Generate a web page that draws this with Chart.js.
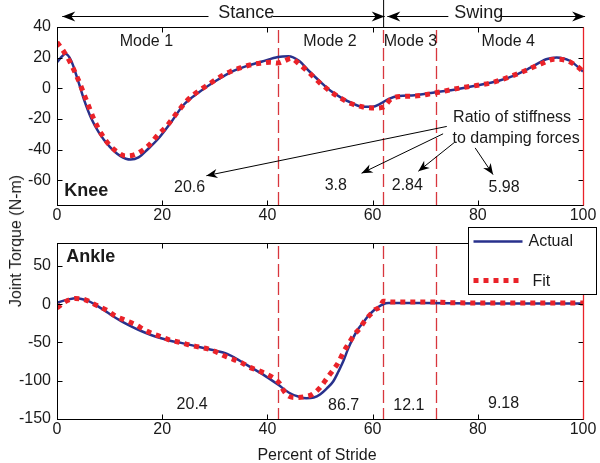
<!DOCTYPE html>
<html><head><meta charset="utf-8">
<script src="https://cdn.jsdelivr.net/npm/chart.js@4.4.1/dist/chart.umd.min.js"></script>
<style>
html,body{margin:0;padding:0;background:#fff;width:600px;height:463px;overflow:hidden;font-family:"Liberation Sans",Arial,sans-serif;color:#1a1a1a;}
#c1{position:absolute;left:0;top:0;}
#c2{position:absolute;left:0;top:216px;}
#ylab{position:absolute;left:16px;top:241px;transform:translate(-50%,-50%) rotate(-90deg);font-size:16px;white-space:nowrap;}
#xlab{position:absolute;left:317px;top:455px;transform:translate(-50%,-50%);font-size:16px;white-space:nowrap;}
</style></head>
<body>
<canvas id="c1" width="600" height="230"></canvas>
<canvas id="c2" width="600" height="228"></canvas>
<div id="ylab">Joint Torque (N-m)</div>
<div id="xlab">Percent of Stride</div>
<script>
// ---- data ----
const xTicks = [0, 20, 40, 60, 80, 100];
const kneeTicks = [-60, -40, -20, 0, 20, 40];
const ankleTicks = [-150, -100, -50, 0, 50];

const kneeActualX = [0, 1, 1.6, 2.7, 4, 5.2, 6.5, 8, 10, 12, 14, 15.5, 17.3, 19.2, 21.7, 24, 27, 30, 33, 36, 39, 42, 44, 46, 48, 50, 52, 54, 56, 58, 60, 61.5, 63, 65, 68, 72, 76, 80, 84, 87, 90, 93, 95, 97.5, 100];
const kneeActualY = [17, 21, 22.5, 18, 5, -8, -19.5, -29, -38, -44, -46.4, -45, -39.5, -33, -22, -11, -2.5, 4.5, 10.5, 14.5, 17.5, 20.5, 21, 18, 11, 4.5, -1.5, -6, -9.5, -12, -12, -10, -7, -5, -4.5, -2.5, -0.5, 2, 5, 8.5, 13.5, 19, 20.2, 18, 11];

const kneeFitX = [0, 1.3, 2.5, 4, 5.5, 7, 8.5, 10, 11.5, 13, 14.5, 16, 17.5, 19, 21, 23, 25, 27, 29, 31, 33, 35, 37, 39, 40.5, 42, 43.3, 44.5, 46, 48, 50, 52, 54, 56, 58, 60.5, 62, 63.5, 65.5, 68, 71, 74, 77, 80, 83, 86, 89, 92, 94.5, 97, 99, 100];
const kneeFitY = [30, 24, 17, 6, -7, -20, -30, -37, -41.5, -44, -43.5, -41, -37, -31, -24, -15, -7, -1.5, 3, 7.5, 11, 13.5, 15.5, 16.5, 17, 16.5, 18, 19.5, 16, 10, 3.5, -2, -6.5, -10, -12, -12.8, -12.2, -7, -5.2, -5, -3.5, -1.5, 0.5, 2, 4, 7.5, 11.5, 16, 19, 18, 14, 11];

const ankleActualX = [0, 2, 3.7, 5.9, 7.5, 9, 10.5, 12.2, 14, 16, 18, 19.8, 21.7, 23.6, 26.8, 30, 32, 33.8, 36, 39.2, 42, 44.2, 46, 47.4, 48.8, 50, 51.3, 52.5, 53.5, 54.4, 55.3, 56.3, 57.2, 58.2, 59.2, 60.1, 61, 62, 63, 70, 80, 90, 100];
const ankleActualY = [2, 6, 7.9, 4.3, -1.5, -8, -15, -22, -28.5, -35, -40.5, -44.5, -48, -50.5, -55.5, -60.5, -64, -70, -79, -92, -105, -116, -121, -123, -122, -118, -110, -101, -88, -75, -59, -44, -33, -24, -15, -8.8, -4, 0, 1.5, 1.5, 1, 1, 1];

const ankleFitX = [0, 1.5, 3.5, 5.5, 7.5, 9.5, 11, 13, 15, 16.5, 18, 20, 21.5, 23.5, 25, 27, 29, 30.5, 32, 33.5, 35, 36.5, 38, 40, 41.5, 42.5, 43, 44, 45.5, 47, 48.5, 50, 51.5, 52.5, 53.5, 54.5, 55.5, 56.5, 57.5, 58.5, 59.5, 60.5, 61.5, 62, 63.5, 65, 70, 75, 80, 90, 100];
const ankleFitY = [-5, 3, 7.5, 5.5, -1.5, -8, -15, -21, -27, -33, -38, -43, -47, -50, -53, -56, -59, -63, -68, -72, -76, -82, -86, -92, -98, -105, -112, -120, -122, -121, -118, -109, -95, -86, -76, -62, -51, -40, -32, -22, -14, -7, -3, 4, 3, 3, 3, 2, 1.5, 1.5, 1.5];

const modeBounds = [42, 62, 72];
const modeNames = ['Mode 1', 'Mode 2', 'Mode 3', 'Mode 4'];
const kneeRatios = ['20.6', '3.8', '2.84', '5.98'];
const ankleRatios = ['20.4', '86.7', '12.1', '9.18'];

// ---- styles ----
const FONT = '"Liberation Sans", Arial, sans-serif';
const BLUE = '#28318c';
const RED = '#ea2229';
const DASHRED = '#d8363d';
const TXT = '#1a1a1a';

function pts(xs, ys) { return xs.map((x, i) => ({ x: x, y: ys[i] })); }

function arrowHead(ctx, x0, y0, x1, y1, len, half) {
  const a = Math.atan2(y1 - y0, x1 - x0);
  const c = Math.cos(a), s = Math.sin(a);
  const bx = x1 - c * len, by = y1 - s * len;
  const nx = x1 - c * len * 0.7, ny = y1 - s * len * 0.7;
  ctx.beginPath();
  ctx.moveTo(x1, y1);
  ctx.lineTo(bx - s * half, by + c * half);
  ctx.lineTo(nx, ny);
  ctx.lineTo(bx + s * half, by - c * half);
  ctx.closePath();
  ctx.fill();
}
function arrow(ctx, x0, y0, x1, y1, len, half) {
  ctx.beginPath(); ctx.moveTo(x0, y0); ctx.lineTo(x1, y1); ctx.stroke();
  arrowHead(ctx, x0, y0, x1, y1, len, half);
}

function framePlugin(kind) {
  return {
    id: 'frame' + kind,
    beforeDatasetsDraw(chart) {
      const { ctx, chartArea: ca, scales: { x: xs } } = chart;
      ctx.save();
      ctx.strokeStyle = DASHRED; ctx.lineWidth = 1.3; ctx.setLineDash([13, 5]);
      modeBounds.forEach(b => {
        const px = Math.round(xs.getPixelForValue(b)) + 0.5;
        ctx.beginPath(); ctx.moveTo(px, ca.top + 3); ctx.lineTo(px, ca.bottom); ctx.stroke();
      });
      ctx.restore();
    },
    afterDraw(chart) {
      const { ctx, chartArea: ca, scales: { x: xs, y: ys } } = chart;
      const X = v => xs.getPixelForValue(v), Y = v => ys.getPixelForValue(v);
      ctx.save();
      // box
      ctx.strokeStyle = '#000'; ctx.lineWidth = 1; ctx.setLineDash([]);
      const L = Math.round(ca.left) + 0.5, R = Math.round(ca.right) + 0.5, T = Math.round(ca.top) + 0.5, B = Math.round(ca.bottom) + 0.5;
      ctx.strokeRect(L, T, R - L, B - T);
      // inner ticks
      ctx.beginPath();
      xTicks.forEach(v => {
        const px = Math.round(X(v)) + 0.5;
        ctx.moveTo(px, B); ctx.lineTo(px, B - 5);
        ctx.moveTo(px, T); ctx.lineTo(px, T + 5);
      });
      (kind === 'knee' ? kneeTicks : ankleTicks).forEach(v => {
        const py = Math.round(Y(v)) + 0.5;
        ctx.moveTo(L, py); ctx.lineTo(L + 5, py);
        ctx.moveTo(R, py); ctx.lineTo(R - 5, py);
      });
      ctx.stroke();
      // red line at 100
      ctx.strokeStyle = RED; ctx.lineWidth = 1.3;
      ctx.beginPath(); ctx.moveTo(R, T); ctx.lineTo(R, B); ctx.stroke();

      ctx.fillStyle = TXT; ctx.strokeStyle = '#000';
      ctx.textBaseline = 'middle';
      if (kind === 'knee') {
        // header
        const hy = 16.5;
        ctx.lineWidth = 1;
        ctx.beginPath(); ctx.moveTo(X(62) + 0.5, 0); ctx.lineTo(X(62) + 0.5, T); ctx.stroke();
        ctx.fillStyle = '#000';
        arrow(ctx, X(31), hy, X(1), hy, 13, 5);
        arrow(ctx, X(31), hy, X(62.3), hy, 13, 5);
        arrow(ctx, X(81), hy, X(62.8), hy, 13, 5);
        arrow(ctx, X(81), hy, X(100.4), hy, 13, 5);
        ctx.font = '18px ' + FONT; ctx.textAlign = 'center';
        ctx.fillStyle = '#fff';
        ctx.fillRect(X(28.8), 3, X(41) - X(28.8), 24);
        ctx.fillRect(X(74.4), 3, X(84) - X(74.4), 24);
        ctx.fillStyle = TXT;
        ctx.fillText('Stance', X(36), 13);
        ctx.fillText('Swing', X(80.2), 13);
        // mode labels
        ctx.font = '16px ' + FONT;
        const mx = [17, 51.9, 67.2, 85.8];
        modeNames.forEach((m, i) => ctx.fillText(m, X(mx[i]), Y(30.7)));
        // ratios
        const rx = [25.2, 53, 66.6, 85];
        const ry = [-64.7, -63.4, -63.4, -64.7];
        kneeRatios.forEach((r, i) => ctx.fillText(r, X(rx[i]), Y(ry[i])));
        ctx.textAlign = 'left';
        ctx.fillText('Ratio of stiffness', X(75.3), Y(-19));
        ctx.fillText('to damping forces', X(75.2), Y(-32.7));
        ctx.font = 'bold 18px ' + FONT;
        ctx.fillText('Knee', X(1.4), Y(-66.7));
        // arrows
        ctx.lineWidth = 1; ctx.fillStyle = '#000';
        arrow(ctx, X(74.1), Y(-24.8), X(28.4), Y(-56.9), 11, 4.5);
        arrow(ctx, X(73.4), Y(-29.6), X(57.9), Y(-55.3), 11, 4.5);
        arrow(ctx, X(75.6), Y(-35.1), X(68.7), Y(-54), 11, 4.5);
        arrow(ctx, X(79.5), Y(-38.8), X(82.9), Y(-56.2), 11, 4.5);
      } else {
        ctx.font = '16px ' + FONT; ctx.textAlign = 'center';
        const rx = [25.7, 54.5, 66.9, 84.9];
        const ry = [-131, -132.5, -132.5, -130];
        ankleRatios.forEach((r, i) => ctx.fillText(r, X(rx[i]), Y(ry[i])));
        ctx.textAlign = 'left';
        ctx.font = 'bold 18px ' + FONT;
        ctx.fillText('Ankle', X(1.75), Y(62.2));
        // legend
        const lx = Math.round(ca.right) - 115 + 0.5, ly = Math.round(ca.top) - 16 + 0.5, lw = 128, lh = 67;
        ctx.fillStyle = '#fff'; ctx.fillRect(lx, ly, lw, lh);
        ctx.strokeStyle = '#000'; ctx.lineWidth = 1; ctx.strokeRect(lx, ly, lw, lh);
        ctx.strokeStyle = BLUE; ctx.lineWidth = 2.5;
        ctx.beginPath(); ctx.moveTo(lx + 5, ly + 14); ctx.lineTo(lx + 54, ly + 14); ctx.stroke();
        ctx.strokeStyle = RED; ctx.lineWidth = 5; ctx.setLineDash([5, 5]);
        ctx.beginPath(); ctx.moveTo(lx + 5, ly + 53); ctx.lineTo(lx + 54, ly + 53); ctx.stroke();
        ctx.setLineDash([]);
        ctx.fillStyle = TXT; ctx.font = '16px ' + FONT;
        ctx.fillText('Actual', lx + 60, ly + 14);
        ctx.fillText('Fit', lx + 64, ly + 54);
      }
      ctx.restore();
    }
  };
}

function makeChart(id, kind, actual, fit, yMin, yMax, yTicks) {
  return new Chart(document.getElementById(id), {
    type: 'line',
    data: {
      datasets: [
        { label: 'Actual', data: actual, borderColor: BLUE, borderWidth: 2.5, pointRadius: 0, cubicInterpolationMode: 'monotone', order: 1 },
        { label: 'Fit', data: fit, borderColor: RED, borderWidth: 5, borderDash: [5, 5], borderCapStyle: 'butt', pointRadius: 0, cubicInterpolationMode: 'monotone', order: 0 }
      ]
    },
    options: {
      responsive: false, animation: false, events: [],
      layout: { padding: { left: 0, right: 17, top: 27, bottom: 0 } },
      plugins: { legend: { display: false }, tooltip: { enabled: false } },
      scales: {
        x: {
          type: 'linear', min: 0, max: 100,
          afterBuildTicks: s => { s.ticks = xTicks.map(v => ({ value: v })); },
          afterFit: s => { s.height = 25; },
          grid: { display: false, drawTicks: false }, border: { display: false },
          ticks: { font: { size: 16, family: FONT }, color: TXT, padding: 1, maxRotation: 0, autoSkip: false }
        },
        y: {
          type: 'linear', min: yMin, max: yMax,
          afterBuildTicks: s => { s.ticks = yTicks.map(v => ({ value: v })); },
          afterFit: s => { s.width = 57; },
          grid: { display: false, drawTicks: false }, border: { display: false },
          ticks: { font: { size: 16, family: FONT }, color: TXT, padding: 6, autoSkip: false }
        }
      }
    },
    plugins: [framePlugin(kind)]
  });
}

makeChart('c1', 'knee', pts(kneeActualX, kneeActualY), pts(kneeFitX, kneeFitY), -76, 40, kneeTicks);
makeChart('c2', 'ankle', pts(ankleActualX, ankleActualY), pts(ankleFitX, ankleFitY), -150, 80, ankleTicks);
</script>
</body></html>
